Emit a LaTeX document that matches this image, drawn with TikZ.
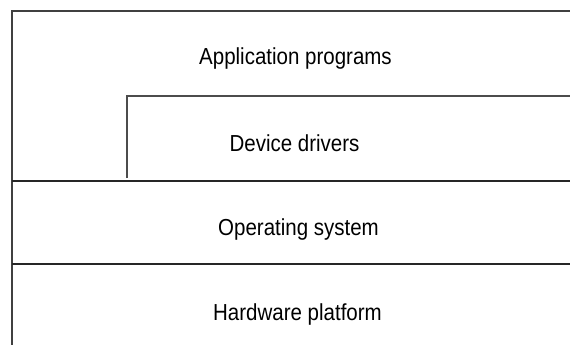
\documentclass[tikz,border=0pt]{standalone}
\usepackage{fontspec}
\setmainfont{Liberation Sans}
\begin{document}
\begin{tikzpicture}[x=1pt,y=-1pt,line width=1.4pt, every node/.style={font=\fontsize{20.5}{24}\selectfont, anchor=base, yscale=1.13}]{
    \useasboundingbox (0,0) rectangle (570,345);
    \coordinate (TL) at (12,11);
    \coordinate (TR) at (570,11);
    \coordinate (BL) at (12,345);
    \coordinate (DL) at (127,178);
    \coordinate (DT) at (127,96);
    \coordinate (DR) at (570,96);
    \coordinate (OL) at (12,181);
    \coordinate (OR) at (570,181);
    \coordinate (HL) at (12,264);
    \coordinate (HR) at (570,264);

    \node (app) at (295.5,65) {Application programs};
    \node (drv) at (294.5,151) {Device drivers};
    \node (os) at (298.5,235) {Operating system};
    \node (hw) at (297.5,320) {Hardware platform};

    \draw [black!75] (BL) -- (TL) -- (TR);
    \draw [black!70] (DL) -- (DT) -- (DR);
    \draw [black!85] (OL) -- (OR);
    \draw [black!85] (HL) -- (HR);
    }
\end{tikzpicture}
\end{document}
